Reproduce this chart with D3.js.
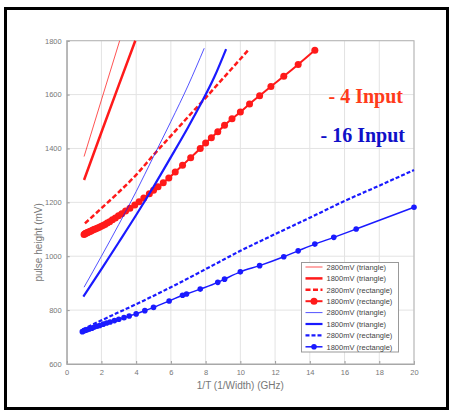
<!DOCTYPE html>
<html>
<head>
<meta charset="utf-8">
<script src="https://d3js.org/d3.v7.min.js"></script>
<style>
  body { margin: 0; background: #fff; }
  svg { display: block; }
</style>
</head>
<body>
<svg id="chart" width="449" height="410"></svg>
<script>
// x = 1/T (GHz), y = pulse height (mV)

// 4 input (red)
var red2800TriX = [1.0, 2.0, 3.05];
var red2800TriY = [1370, 1580, 1800];
var red1800TriX = [1.0, 2.0, 3.0, 3.95];
var red1800TriY = [1283, 1460, 1635, 1800];
var red2800RectX = [1.05, 2, 3, 4, 5, 6, 7, 8, 9, 10, 10.51];
var red2800RectY = [1122, 1178, 1238, 1302, 1376, 1447, 1518, 1588, 1660, 1732, 1769];
var red1800RectX = [1.0, 1.05, 1.1, 1.15, 1.2, 1.26, 1.33, 1.4, 1.48, 1.56, 1.65, 1.75, 1.85, 1.96, 2.08, 2.2,
  2.33, 2.47, 2.63, 2.8, 2.98, 3.17, 3.39, 3.64, 3.92, 4.17, 4.44, 4.76, 5.0, 5.26, 5.56, 5.88, 6.25,
  6.67, 7.14, 7.69, 8.0, 8.33, 8.7, 9.09, 9.52, 10.0, 10.53, 11.11, 11.76, 12.5, 13.33, 14.29];
var red1800RectY = [1081, 1083, 1085, 1086, 1088, 1090, 1092, 1094, 1096, 1099, 1101, 1104, 1107, 1110, 1114, 1118,
  1123, 1128, 1135, 1142, 1150, 1158, 1168, 1178, 1190, 1202, 1216, 1232, 1245, 1258, 1273, 1290, 1313,
  1338, 1366, 1400, 1420, 1440, 1462, 1486, 1510, 1535, 1565, 1596, 1630, 1668, 1712, 1765];

// 16 input (blue)
var blue2800TriX = [1.0, 2, 3, 4, 5, 6, 7, 7.92];
var blue2800TriY = [885, 1000, 1118, 1240, 1370, 1500, 1635, 1772];
var blue1800TriX = [0.96, 2, 3, 4, 5, 6, 7, 7.68, 8.5, 9.18];
var blue1800TriY = [850, 952, 1052, 1153, 1258, 1368, 1480, 1560, 1665, 1769];
var blue2800RectX = [0.9, 2, 4, 6, 8, 10, 12, 14, 16, 18, 20];
var blue2800RectY = [728, 762, 822, 885, 952, 1020, 1082, 1143, 1205, 1262, 1320];
var blue1800RectX = [0.9, 1.0, 1.1, 1.2, 1.3, 1.45, 1.6, 1.75, 1.9, 2.1, 2.3, 2.5, 2.75, 3.0, 3.3, 3.6, 4.0,
  4.5, 5.0, 5.9, 6.67, 6.9, 7.69, 8.7, 9.09, 10.0, 11.11, 12.5, 13.33, 14.29, 15.38, 16.67, 20.0];
var blue1800RectY = [720, 723, 725, 728, 730, 733, 737, 740, 743, 748, 752, 756, 761, 766, 772, 778, 786,
  798, 810, 834, 855, 860, 878, 903, 915, 942, 965, 998, 1020, 1045, 1070, 1101, 1182];

var xTicks = [0, 2, 4, 6, 8, 10, 12, 14, 16, 18, 20];
var yTicks = [600, 800, 1000, 1200, 1400, 1600, 1800];
var legendLabels = ["2800mV (triangle)", "1800mV (triangle)", "2800mV (rectangle)", "1800mV (rectangle)",
  "2800mV (triangle)", "1800mV (triangle)", "2800mV (rectangle)", "1800mV (rectangle)"];

var RED = "#ff1a1a", BLUE = "#1a1aff";

var series = [
  { x: red2800TriX, y: red2800TriY, color: RED, w: 1, dash: null, marker: false, op: 0.75 },
  { x: red1800TriX, y: red1800TriY, color: RED, w: 2.5, dash: null, marker: false, op: 1 },
  { x: red2800RectX, y: red2800RectY, color: RED, w: 2.5, dash: "5,2.5", marker: false, op: 1 },
  { x: red1800RectX, y: red1800RectY, color: RED, w: 2, dash: null, marker: true, r: 3.5, op: 1 },
  { x: blue2800TriX, y: blue2800TriY, color: BLUE, w: 1, dash: null, marker: false, op: 0.75 },
  { x: blue1800TriX, y: blue1800TriY, color: BLUE, w: 2.2, dash: null, marker: false, op: 1 },
  { x: blue2800RectX, y: blue2800RectY, color: BLUE, w: 2.2, dash: "4,2", marker: false, op: 1 },
  { x: blue1800RectX, y: blue1800RectY, color: BLUE, w: 1.5, dash: null, marker: true, r: 2.8, op: 1 }
];

var svg = d3.select("#chart");
var margin = { left: 66.7, right: 35, top: 40.7, bottom: 46 };
var width = 449 - margin.left - margin.right,
    height = 410 - margin.top - margin.bottom;

// outer frame
svg.append("rect")
    .attr("x", 5.5).attr("y", 8.5)
    .attr("width", 442).attr("height", 400)
    .attr("fill", "none").attr("stroke", "#000").attr("stroke-width", 3);

var x = d3.scaleLinear().domain([0, 20]).range([0, width]);
var y = d3.scaleLinear().domain([600, 1800]).range([height, 0]);

var g = svg.append("g").attr("transform", "translate(" + margin.left + "," + margin.top + ")");

// grid
g.append("g").selectAll("line").data(xTicks).enter().append("line")
    .attr("x1", d => x(d)).attr("x2", d => x(d))
    .attr("y1", 0).attr("y2", height)
    .attr("stroke", "#e3e3e3").attr("stroke-width", 1);
g.append("g").selectAll("line").data(yTicks).enter().append("line")
    .attr("y1", d => y(d)).attr("y2", d => y(d))
    .attr("x1", 0).attr("x2", width)
    .attr("stroke", "#e3e3e3").attr("stroke-width", 1);

// axes
var xAxis = g.append("g").attr("transform", "translate(0," + height + ")")
    .call(d3.axisBottom(x).tickValues(xTicks).tickFormat(d3.format("d")).tickSize(-3).tickPadding(6));
var yAxis = g.append("g")
    .call(d3.axisLeft(y).tickValues(yTicks).tickFormat(d3.format("d")).tickSize(-3).tickPadding(5));
[xAxis, yAxis].forEach(function (a) {
  a.selectAll("path, line").attr("stroke", "#9a9a9a");
  a.selectAll("text").attr("fill", "#777").style("font-family", "Liberation Sans, Arial, sans-serif")
    .style("font-size", "7.5px");
});
// box top/right
g.append("rect").attr("width", width).attr("height", height)
    .attr("fill", "none").attr("stroke", "#b5b5b5").attr("stroke-width", 1);

// lines
var line = d3.line().x(d => x(d[0])).y(d => y(d[1])).curve(d3.curveMonotoneX);
series.forEach(function (s) {
  var pts = s.x.map((v, i) => [v, s.y[i]]);
  g.append("path").datum(pts)
      .attr("d", line)
      .attr("fill", "none")
      .attr("stroke", s.color)
      .attr("stroke-width", s.w)
      .attr("stroke-opacity", s.op)
      .attr("stroke-dasharray", s.dash);
  if (s.marker) {
    g.append("g").selectAll("circle").data(pts).enter().append("circle")
        .attr("cx", d => x(d[0])).attr("cy", d => y(d[1]))
        .attr("r", s.r).attr("fill", s.color);
  }
});

// axis labels
svg.append("text")
    .attr("x", margin.left + width / 2).attr("y", 389)
    .attr("text-anchor", "middle")
    .style("font-family", "Liberation Sans, Arial, sans-serif").style("font-size", "10px")
    .attr("fill", "#777")
    .text("1/T (1/Width) (GHz)");
svg.append("text")
    .attr("transform", "translate(42," + (margin.top + height / 2 + 40) + ") rotate(-90)")
    .attr("text-anchor", "middle")
    .style("font-family", "Liberation Sans, Arial, sans-serif").style("font-size", "10px")
    .attr("fill", "#777")
    .text("pulse height (mV)");

// legend
var lg = svg.append("g").attr("transform", "translate(301.5,262.5)");
lg.append("rect").attr("width", 97).attr("height", 89.5)
    .attr("fill", "#fff").attr("stroke", "#999").attr("stroke-width", 1);
legendLabels.forEach(function (lab, i) {
  var s = series[i];
  var ly = 4.5 + i * 11.4;
  lg.append("line").attr("x1", 4).attr("x2", 21).attr("y1", ly).attr("y2", ly)
      .attr("stroke", s.color).attr("stroke-width", s.w).attr("stroke-opacity", s.op)
      .attr("stroke-dasharray", s.dash);
  if (s.marker) {
    lg.append("circle").attr("cx", 12.5).attr("cy", ly).attr("r", s.r).attr("fill", s.color);
  }
  lg.append("text").attr("x", 25).attr("y", ly + 2.8)
      .style("font-family", "Liberation Sans, Arial, sans-serif").style("font-size", "7.5px")
      .attr("fill", "#444")
      .text(lab);
});

// annotations
svg.append("text").attr("x", 403).attr("y", 103).attr("text-anchor", "end")
    .style("font-family", "Liberation Serif, Times New Roman, serif").style("font-weight", "bold")
    .style("font-size", "20px").attr("fill", "#ff3a1a")
    .text("- 4 Input");
svg.append("text").attr("x", 405).attr("y", 142).attr("text-anchor", "end")
    .style("font-family", "Liberation Serif, Times New Roman, serif").style("font-weight", "bold")
    .style("font-size", "20px").attr("fill", "#1010c8")
    .text("- 16 Input");
</script>
</body>
</html>
